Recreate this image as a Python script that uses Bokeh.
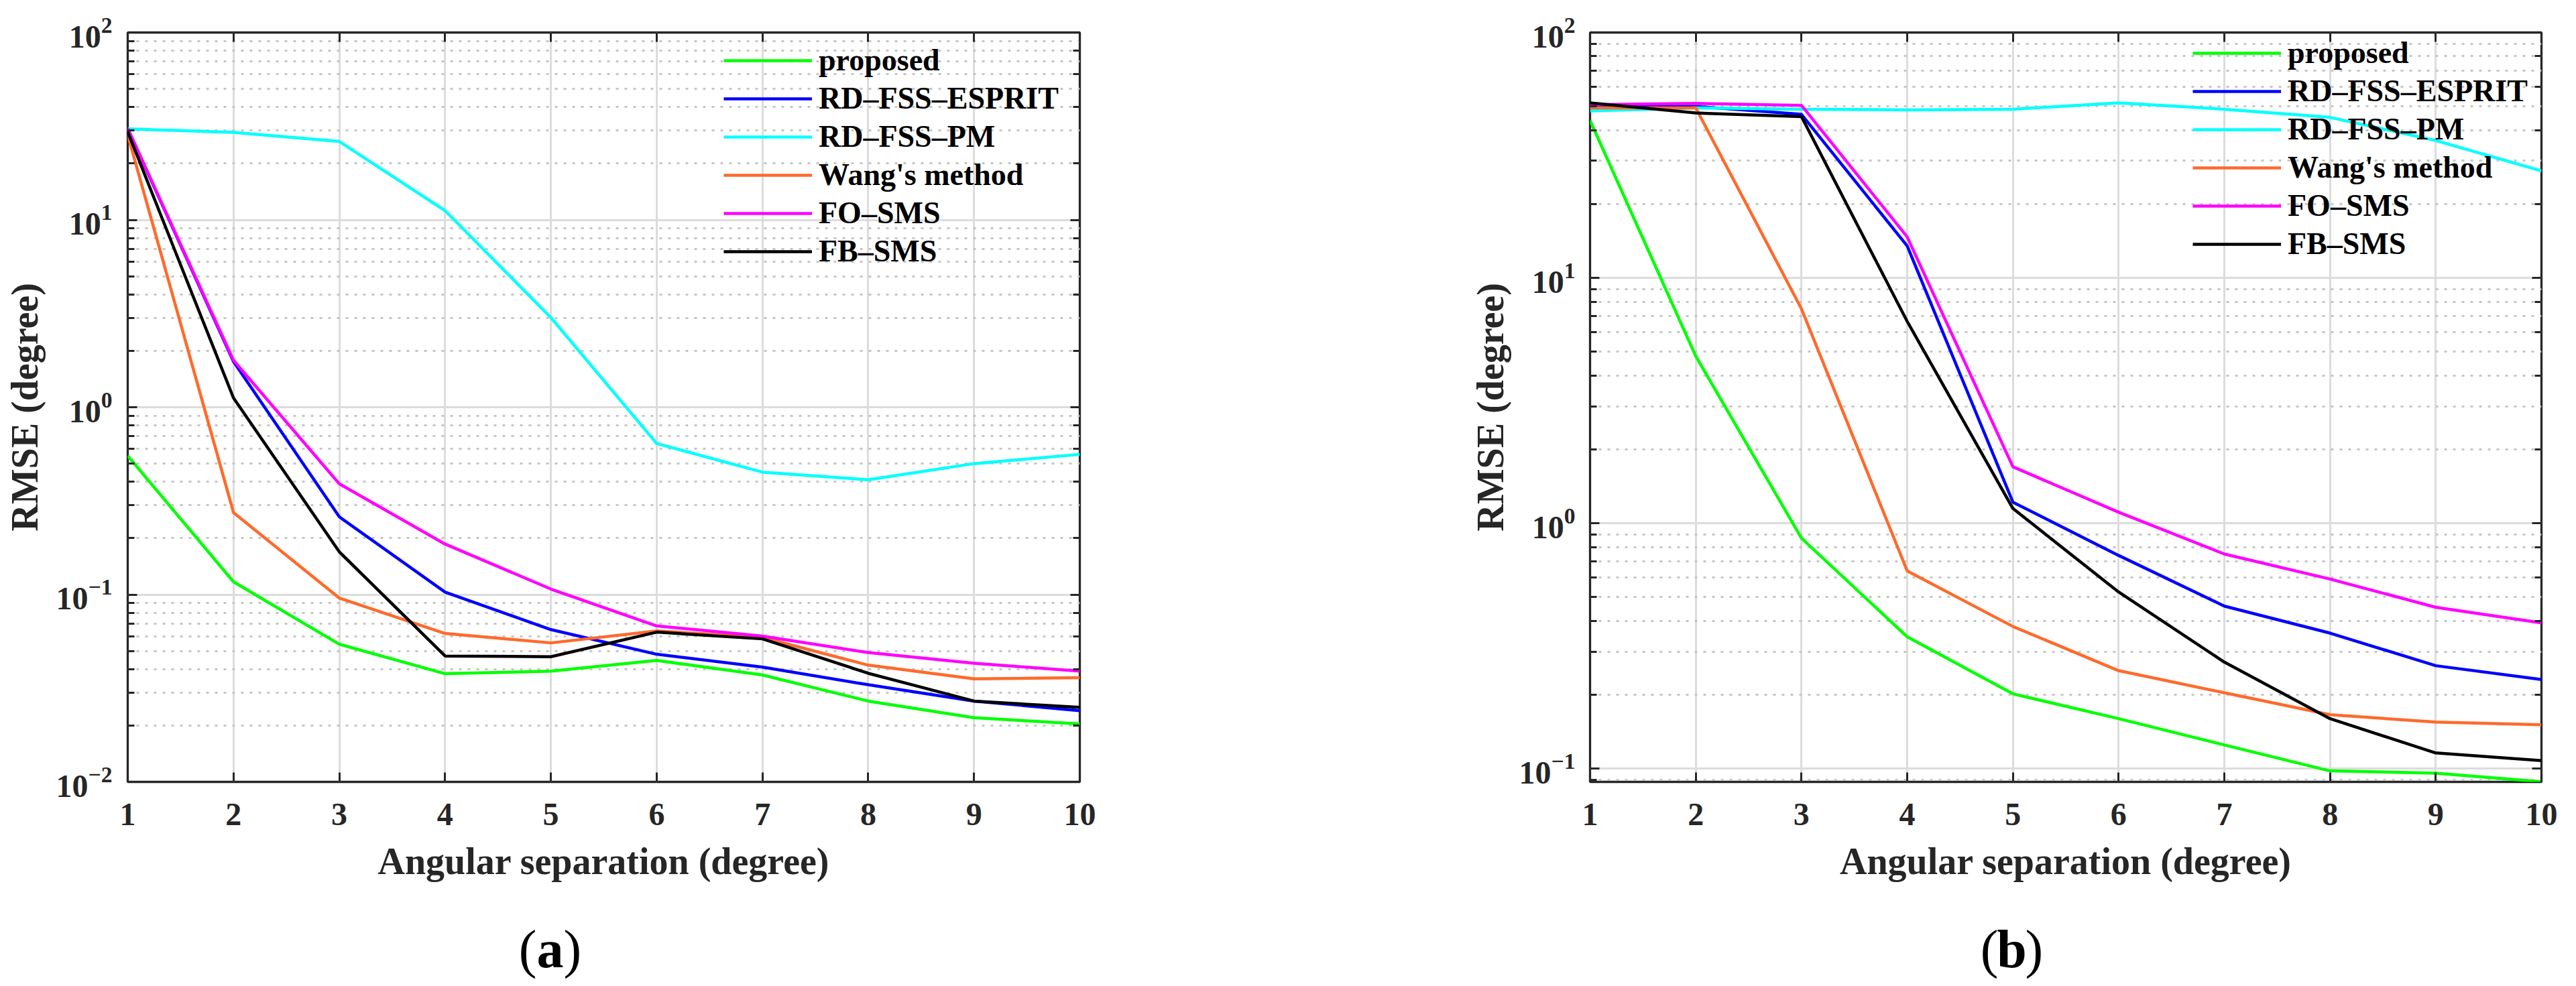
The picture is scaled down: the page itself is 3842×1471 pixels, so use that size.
from bokeh.plotting import figure
from bokeh.models import (Range1d, FixedTicker, LogTicker, LinearAxis, LogAxis,
                          Legend, LegendItem, Label)
from bokeh.layouts import row, column
from bokeh.embed import file_html
from bokeh.resources import INLINE

# ---------------- data ----------------
angular_sep = [1, 2, 3, 4, 5, 6, 7, 8, 9, 10]
series_names = ["proposed", "RD\u2013FSS\u2013ESPRIT", "RD\u2013FSS\u2013PM",
                "Wang's method", "FO\u2013SMS", "FB\u2013SMS"]
series_colors = ["#00ff00", "#0000ff", "#00ffff", "#ff6a2b", "#ff00ff", "#000000"]

# panel (a)
a_proposed = [0.55, 0.117, 0.0543, 0.0378, 0.039, 0.0445, 0.0372, 0.027, 0.022, 0.0204]
a_esprit = [30.6, 1.75, 0.26, 0.103, 0.065, 0.048, 0.041, 0.033, 0.027, 0.024]
a_pm = [30.6, 29.3, 26.2, 11.2, 3.01, 0.64, 0.45, 0.41, 0.50, 0.56]
a_wang = [28.4, 0.274, 0.0957, 0.062, 0.0552, 0.064, 0.059, 0.042, 0.0355, 0.036]
a_fo = [30.8, 1.78, 0.39, 0.186, 0.107, 0.068, 0.060, 0.049, 0.043, 0.039]
a_fb = [29.5, 1.12, 0.169, 0.047, 0.0466, 0.063, 0.058, 0.038, 0.027, 0.025]

# panel (b)
b_proposed = [43.8, 4.8, 0.87, 0.345, 0.202, 0.16, 0.125, 0.098, 0.096, 0.0885]
b_esprit = [50.2, 50.0, 46.4, 13.5, 1.22, 0.74, 0.46, 0.357, 0.263, 0.231]
b_pm = [47.9, 49.3, 48.7, 48.4, 48.7, 51.7, 48.7, 45.1, 36.3, 27.3]
b_wang = [49.3, 49.3, 7.48, 0.64, 0.38, 0.251, 0.204, 0.166, 0.155, 0.151]
b_fo = [50.8, 51.4, 50.5, 14.7, 1.70, 1.11, 0.75, 0.593, 0.455, 0.393]
b_fb = [51.7, 47.0, 45.4, 6.65, 1.15, 0.525, 0.272, 0.16, 0.116, 0.108]

x_label = "Angular separation (degree)"
y_label = "RMSE (degree)"
captions = ["a", "b"]

FONT = "Liberation Serif"
TXT = "#262626"
H = 1360          # plot figure height
CAP_H = 100       # caption strip height
TOP = 48
FRAME_H = 1118


def style_axis(ax):
    ax.axis_line_color = None
    ax.major_tick_in = 14
    ax.major_tick_out = 0
    ax.minor_tick_in = 10
    ax.minor_tick_out = 0
    ax.major_tick_line_color = TXT
    ax.major_tick_line_width = 3
    ax.minor_tick_line_color = TXT
    ax.minor_tick_line_width = 3
    ax.major_label_text_font = FONT
    ax.major_label_text_font_style = "bold"
    ax.major_label_text_font_size = "48px"
    ax.major_label_text_color = TXT
    ax.axis_label_text_font = FONT
    ax.axis_label_text_font_style = "bold"
    ax.axis_label_text_font_size = "56px"
    ax.axis_label_text_color = TXT


def make_panel(series, y_start, y_end, width, border_left, border_right, legend_loc,
               ytick_std, ylab_std):
    p = figure(width=width, height=H, x_range=Range1d(1, 10), y_range=Range1d(y_start, y_end),
               y_axis_type="log", output_backend="svg", toolbar_location=None,
               min_border_left=border_left, min_border_right=border_right,
               min_border_top=TOP, min_border_bottom=H - TOP - FRAME_H,
               background_fill_color="white", border_fill_color="white")
    p.outline_line_color = TXT
    p.outline_line_width = 3.3

    bottom = p.below[0]
    left = p.left[0]

    x_ticker = FixedTicker(ticks=angular_sep)
    bottom.ticker = x_ticker
    p.xgrid.ticker = x_ticker

    # grids
    p.xgrid.grid_line_color = "#dcdcdc"
    p.xgrid.grid_line_width = 3
    p.ygrid.grid_line_color = "#dcdcdc"
    p.ygrid.grid_line_width = 3
    p.ygrid.minor_grid_line_color = "#c6c6c6"
    p.ygrid.minor_grid_line_width = 3
    p.ygrid.minor_grid_line_dash = "4 9"

    # extra box axes (ticks only)
    top = LinearAxis(ticker=x_ticker)
    right = LogAxis(ticker=LogTicker())

    for ax in [bottom, left, top, right]:
        style_axis(ax)
    for ax in [bottom, top]:
        ax.minor_tick_line_color = None
    for ax in [top, right]:
        ax.major_label_text_font_size = "8px"
        ax.major_label_text_color = None
        ax.major_label_standoff = 0

    p.add_layout(top, "above")
    p.add_layout(right, "right")

    bottom.major_label_standoff = 32
    bottom.axis_label = x_label
    bottom.axis_label_standoff = 20
    left.major_label_standoff = ytick_std
    left.axis_label = y_label
    left.axis_label_standoff = ylab_std

    items = []
    for name, color, ys in zip(series_names, series_colors, series):
        r = p.line(angular_sep, ys, line_color=color, line_width=4.5)
        items.append(LegendItem(label=name, renderers=[r]))

    legend = Legend(items=items, location=legend_loc, padding=0, margin=0, spacing=0,
                    glyph_width=132, glyph_height=40, label_height=57, label_standoff=10,
                    label_text_font=FONT, label_text_font_style="bold",
                    label_text_font_size="46px", label_text_color="black",
                    border_line_color=None, background_fill_alpha=0)
    p.add_layout(legend)
    return p


def make_caption(width, letter, cx):
    c = figure(width=width, height=CAP_H, x_range=Range1d(0, 1), y_range=Range1d(0, 1),
               output_backend="svg", toolbar_location=None, min_border=0,
               x_axis_location=None, y_axis_location=None,
               background_fill_color="white", border_fill_color="white")
    c.outline_line_color = None
    c.grid.visible = False
    cy = 45
    c.add_layout(Label(x=cx - 20, y=cy, x_units="screen", y_units="screen", text="(",
                       text_font=FONT, text_font_size="80px", text_align="right",
                       text_baseline="alphabetic", text_color="black"))
    c.add_layout(Label(x=cx, y=cy, x_units="screen", y_units="screen", text=letter,
                       text_font=FONT, text_font_style="bold", text_font_size="80px",
                       text_align="center", text_baseline="alphabetic", text_color="black"))
    c.add_layout(Label(x=cx + 20, y=cy, x_units="screen", y_units="screen", text=")",
                       text_font=FONT, text_font_size="80px", text_align="left",
                       text_baseline="alphabetic", text_color="black"))
    return c


W1, W2 = 2100, 1740
pa = make_panel([a_proposed, a_esprit, a_pm, a_wang, a_fo, a_fb], 0.01, 100,
                W1, 190, 490, (889, 763), 23, 13)
pb = make_panel([b_proposed, b_esprit, b_pm, b_wang, b_fo, b_fb], 0.0884, 100,
                W2, 271, 50, (899, 774), 22, 9)
ca = make_caption(W1, captions[0], 820)
cb = make_caption(W2, captions[1], 900)

layout = column(row(pa, pb), row(ca, cb))
open("out.html", "w").write(file_html(layout, INLINE))
